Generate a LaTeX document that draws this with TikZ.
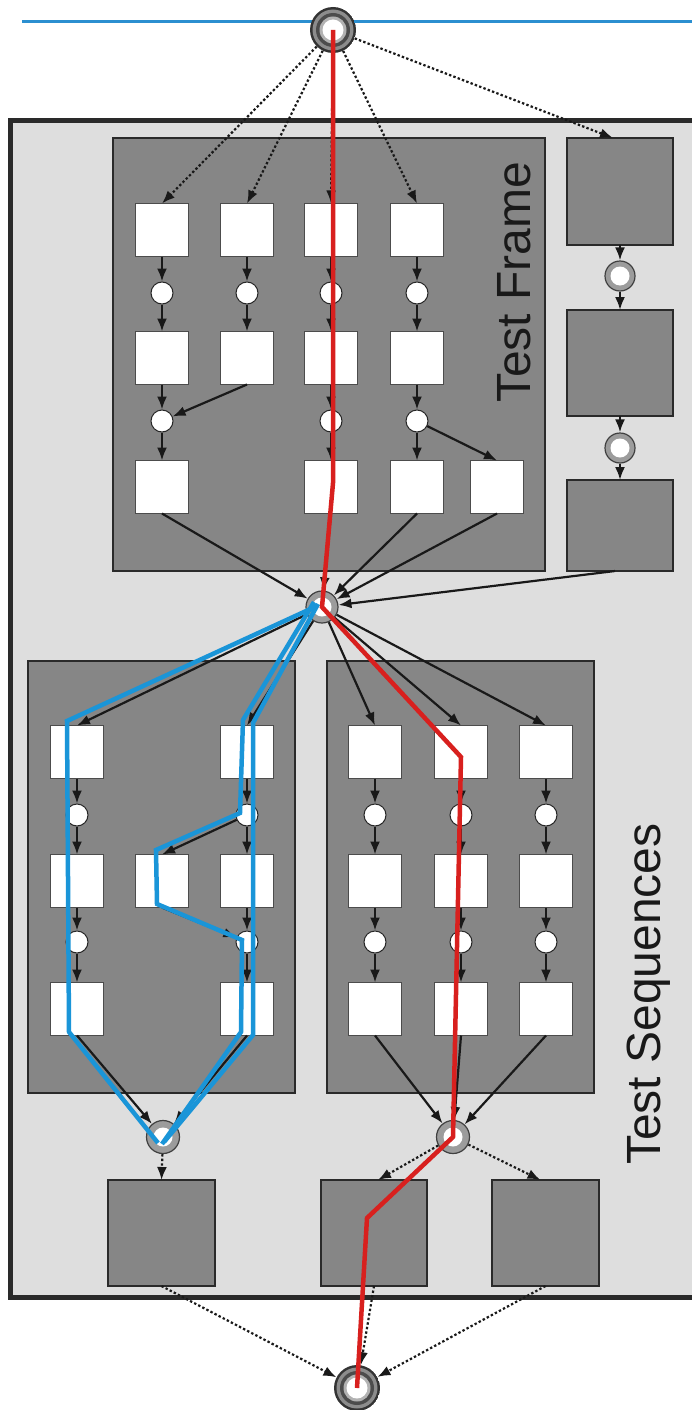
\documentclass[tikz,border=0pt]{standalone}
\usepackage{fontspec}
\setmainfont{Liberation Sans}
\usetikzlibrary{arrows.meta}
\definecolor{panelgray}{HTML}{868686}
\definecolor{bggray}{HTML}{DEDEDE}
\definecolor{edgegray}{HTML}{2A2A2A}
\definecolor{pathblue}{HTML}{1A95D8}
\definecolor{pathred}{HTML}{D8201E}
\definecolor{ringgray}{HTML}{9C9C9C}
\definecolor{linkblue}{HTML}{2B8FD0}

\begin{document}
\begin{tikzpicture}[x=1pt,y=-1pt,
  panel/.style={draw=edgegray, line width=2pt, fill=panelgray},
  wbox/.style={draw=black!70, line width=1pt, fill=white, minimum width=53pt, minimum height=53pt, inner sep=0pt, outer sep=0pt},
  gbox/.style={draw=edgegray, line width=2pt, fill=panelgray, minimum width=106pt, minimum height=106pt, inner sep=0pt, outer sep=0pt},
  sdot/.style={circle, draw=black!85, line width=1pt, fill=white, minimum size=22pt, inner sep=0pt},
  ring/.style={circle, draw=black!75, line width=1.2pt, fill=ringgray, minimum size=32pt, inner sep=0pt,
    path picture={\fill[white] (path picture bounding box.center) circle (9.5pt);}},
  bigring/.style={circle, minimum size=46pt, inner sep=0pt,
    path picture={
      \fill[black!80] (path picture bounding box.center) circle (23pt);
      \fill[black!45] (path picture bounding box.center) circle (20.5pt);
      \fill[black!70] (path picture bounding box.center) circle (17pt);
      \fill[black!30] (path picture bounding box.center) circle (13.5pt);
      \fill[white] (path picture bounding box.center) circle (10.5pt);}},
  flow/.style={-{Latex[length=13pt,width=10pt]}, line width=2.2pt, draw=black!90},
  dflow/.style={flow, dash pattern=on 2.4pt off 2.2pt},
  route/.style={line width=4.5pt, line join=miter},
  title/.style={rotate=90, anchor=base, inner sep=0pt, font=\fontsize{48}{48}\selectfont, text=black!90}
]
\useasboundingbox (0,0) rectangle (692,1410);

% top link
\draw[linkblue, line width=3pt] (22,22) -- (692,22);

% enclosing frame
\draw[fill=bggray, line width=5pt, draw=edgegray] (10,121) rectangle (710,1297);

% panels
\draw[panel] (113,138) rectangle (545,571);
\draw[panel] (28,661) rectangle (295,1093);
\draw[panel] (327,661) rectangle (594,1093);

% titles
\node[title] (tf) at (530,282) {Test Frame};
\node[title] (ts) at (660,994) {Test Sequences};

% ---------- Test Frame ----------
\node[bigring] (top) at (333,30) {};
\foreach \c/\x in {1/162,2/247,3/331,4/417} {
  \node[wbox] (a1\c) at (\x,230) {};
  \node[sdot] (p1\c) at (\x,293) {};
  \node[wbox] (a2\c) at (\x,358) {};
}
\node[sdot] (p21) at (162,421) {};
\node[sdot] (p23) at (331,421) {};
\node[sdot] (p24) at (417,421) {};
\node[wbox] (a31) at (162,487) {};
\node[wbox] (a33) at (331,487) {};
\node[wbox] (a34) at (417,487) {};
\node[wbox] (a35) at (497,487) {};

% side chain
\node[gbox, minimum height=107pt] (R1) at (620,191.5) {};
\node[ring, minimum size=30pt] (rr1) at (620,276) {};
\node[gbox] (R2) at (620,363) {};
\node[ring, minimum size=30pt] (rr2) at (620,448) {};
\node[gbox, minimum height=91pt] (R3) at (620,525.5) {};

\node[ring] (mid) at (322,607) {};

% ---------- Test Sequences ----------
\foreach \c/\x in {1/77,3/247} {
  \node[wbox] (b1\c) at (\x,752) {};
  \node[sdot] (q1\c) at (\x,815) {};
  \node[wbox] (b2\c) at (\x,881) {};
  \node[sdot] (q2\c) at (\x,942) {};
  \node[wbox] (b3\c) at (\x,1009) {};
}
\node[wbox] (b22) at (162,881) {};
\foreach \c/\x in {1/375,2/461,3/546} {
  \node[wbox] (c1\c) at (\x,752) {};
  \node[sdot] (s1\c) at (\x,815) {};
  \node[wbox] (c2\c) at (\x,881) {};
  \node[sdot] (s2\c) at (\x,942) {};
  \node[wbox] (c3\c) at (\x,1009) {};
}
\node[ring, minimum size=33pt] (lring) at (163,1137) {};
\node[ring, minimum size=33pt] (rring) at (453,1137) {};

\node[gbox, minimum width=107pt] (L1) at (161.5,1233) {};
\node[gbox] (L2) at (374,1233) {};
\node[gbox, minimum width=107pt] (L3) at (545.5,1233) {};

\node[bigring] (bot) at (357,1388) {};

% ---------- connectors ----------
\foreach \c in {1,2,3,4} {
  \draw[dflow] (top) -- (a1\c.north);
  \draw[flow] (a1\c) -- (p1\c);
  \draw[flow] (p1\c) -- (a2\c);
}
\draw[dflow] (top) -- ([xshift=-7pt]R1.north);
\draw[flow] (a21) -- (p21);
\draw[flow] (a22.south) -- (p21);
\draw[flow] (p21) -- (a31);
\draw[flow] (a23) -- (p23);
\draw[flow] (p23) -- (a33);
\draw[flow] (a24) -- (p24);
\draw[flow] (p24) -- (a34);
\draw[flow] (p24) -- (a35.north);

\draw[flow] (R1) -- (rr1);
\draw[flow] (rr1) -- (R2);
\draw[flow] (R2) -- (rr2);
\draw[flow] (rr2) -- (R3);

\foreach \n in {a31,a33,a34,a35} \draw[flow] (\n.south) -- (mid);
\draw[flow] ([xshift=-5pt]R3.south) -- (mid);

\draw[flow] (mid) -- (b11.north);
\draw[flow] (mid) -- (b13.north);
\foreach \c in {1,2,3} \draw[flow] (mid) -- (c1\c.north);

\foreach \c in {1,3} {
  \draw[flow] (b1\c) -- (q1\c);
  \draw[flow] (q1\c) -- (b2\c);
  \draw[flow] (b2\c) -- (q2\c);
  \draw[flow] (q2\c) -- (b3\c);
  \draw[flow] (b3\c.south) -- (lring);
}
\draw[flow] (q13) -- (b22.north);
\draw[flow] (b22.south) -- (q23);
\foreach \c in {1,2,3} {
  \draw[flow] (c1\c) -- (s1\c);
  \draw[flow] (s1\c) -- (c2\c);
  \draw[flow] (c2\c) -- (s2\c);
  \draw[flow] (s2\c) -- (c3\c);
  \draw[flow] (c3\c.south) -- (rring);
}

\draw[dflow] (lring) -- (L1.north);
\draw[dflow] (rring) -- ([xshift=4pt]L2.north);
\draw[dflow] (rring) -- ([xshift=-5pt]L3.north);
\foreach \n in {L1,L2,L3} \draw[dflow] (\n.south) -- (bot);

% ---------- highlighted routes ----------
\coordinate (bA1) at (67,721);
\coordinate (bA2) at (69,1032);
\coordinate (bB1) at (243,720);
\coordinate (bB2) at (240,813);
\coordinate (bB3) at (156,850);
\coordinate (bB4) at (157,904);
\coordinate (bB5) at (242,940);
\coordinate (bB6) at (241,1032);
\coordinate (bC1) at (253,723);
\coordinate (bC2) at (253,1035);
\draw[route, pathblue] ([shift={(-5pt,1pt)}]mid.center) -- (bA1) -- (bA2) -- ([shift={(-5pt,-6pt)}]lring.center);
\draw[route, pathblue] ([shift={(-8pt,5pt)}]mid.center) -- (bB1) -- (bB2) -- (bB3) -- (bB4) -- (bB5) -- (bB6) -- ([shift={(-1pt,-7pt)}]lring.center);
\draw[route, pathblue] ([shift={(-4pt,3pt)}]mid.center) -- (bC1) -- (bC2) -- ([shift={(1pt,-5pt)}]lring.center);

\coordinate (r1) at (333,483);
\coordinate (r2) at (461,757);
\coordinate (r3) at (367,1218);
\draw[route, pathred] (top.center) -- (r1) -- (mid.center) -- (r2) -- (rring.center) -- (r3) -- (bot.center);
\end{tikzpicture}
\end{document}
